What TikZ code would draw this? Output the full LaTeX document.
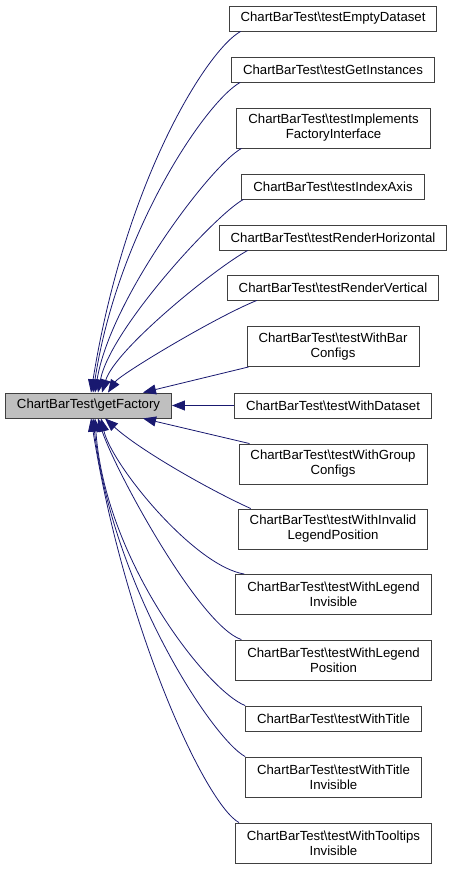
\documentclass[tikz,border=0pt]{standalone}
\usepackage{fontspec}
\setmainfont{Liberation Sans}
\usetikzlibrary{arrows.meta}
\definecolor{callblue}{HTML}{191970}
\definecolor{boxline}{HTML}{404040}
\definecolor{boxgray}{HTML}{BFBFBF}

\begin{document}
\begin{tikzpicture}[x=1pt,y=1pt,
    fn/.style={draw=boxline,line width=0.9pt,fill=white,inner xsep=11.5pt,inner ysep=0pt,
        minimum height=25pt,align=center,font=\fontsize{13.2}{15}\selectfont},
    fn2/.style={fn,minimum height=40pt},
    call/.style={draw=callblue,line width=0.8pt,-{Triangle[length=13pt,width=10pt]}}]
    \useasboundingbox (0,0) rectangle (452,-869);
    \node[fn,fill=boxgray] (getFactory) at (88.5,-405.5) {ChartBarTest\textbackslash{}getFactory};
    \node[fn] (emptyDataset) at (333,-18.5) {ChartBarTest\textbackslash{}testEmptyDataset};
    \node[fn] (getInstances) at (333,-69.5) {ChartBarTest\textbackslash{}testGetInstances};
    \node[fn2] (implements) at (333.5,-128) {ChartBarTest\textbackslash{}testImplements\\FactoryInterface};
    \node[fn] (indexAxis) at (333,-186.5) {ChartBarTest\textbackslash{}testIndexAxis};
    \node[fn] (renderH) at (333,-237.5) {ChartBarTest\textbackslash{}testRenderHorizontal};
    \node[fn] (renderV) at (333,-287.5) {ChartBarTest\textbackslash{}testRenderVertical};
    \node[fn2] (withBar) at (333,-346.5) {ChartBarTest\textbackslash{}testWithBar\\Configs};
    \node[fn] (withDataset) at (333,-405.5) {ChartBarTest\textbackslash{}testWithDataset};
    \node[fn2] (withGroup) at (333,-464) {ChartBarTest\textbackslash{}testWithGroup\\Configs};
    \node[fn2] (invalidLegend) at (333,-529) {ChartBarTest\textbackslash{}testWithInvalid\\LegendPosition};
    \node[fn2] (legendInvisible) at (333.5,-594.5) {ChartBarTest\textbackslash{}testWithLegend\\Invisible};
    \node[fn2] (legendPosition) at (333.5,-660) {ChartBarTest\textbackslash{}testWithLegend\\Position};
    \node[fn] (withTitle) at (333.5,-718.5) {ChartBarTest\textbackslash{}testWithTitle};
    \node[fn2] (titleInvisible) at (333.5,-777) {ChartBarTest\textbackslash{}testWithTitle\\Invisible};
    \node[fn2] (tooltips) at (333.5,-843) {ChartBarTest\textbackslash{}testWithTooltips\\Invisible};
    \draw[call] ([xshift=12pt]emptyDataset.south west) .. controls +(-33,-18) and +(34,213) .. ([xshift=2.5pt]getFactory.north);
    \draw[call] ([xshift=9pt]getInstances.south west) .. controls +(-33,-18) and +(25,163) .. ([xshift=4.5pt]getFactory.north);
    \draw[call] ([xshift=5pt]implements.south west) .. controls +(-31,-17) and +(15,93) .. ([xshift=6.5pt]getFactory.north);
    \draw[call] ([xshift=2pt]indexAxis.south west) .. controls +(-28,-15) and +(12,63) .. ([xshift=9.5pt]getFactory.north);
    \draw[call] ([xshift=29pt]renderH.south west) .. controls +(-33,-18) and +(13,43) .. ([xshift=13.5pt]getFactory.north);
    \draw[call] ([xshift=30pt]renderV.south west) .. controls +(-42,-17) and +(12,18) .. ([xshift=19.5pt]getFactory.north);
    \draw[call] ([xshift=2pt]withBar.south west) -- ([xshift=54.5pt]getFactory.north);
    \draw[call] (withDataset.west) -- (getFactory.east);
    \draw[call] ([xshift=11pt]withGroup.north west) -- ([xshift=54.5pt]getFactory.south);
    \draw[call] ([xshift=13pt]invalidLegend.north west) .. controls +(-40,18) and +(35,-32) .. ([xshift=16.5pt]getFactory.south);
    \draw[call] ([xshift=9pt]legendInvisible.north west) .. controls +(-50,8) and +(11,-47) .. ([xshift=12.5pt]getFactory.south);
    \draw[call] ([xshift=6pt]legendPosition.north west) .. controls +(-42,14) and +(17,-52) .. ([xshift=9.5pt]getFactory.south);
    \draw[call] (withTitle.north west) .. controls +(-38,15) and +(10,-142) .. ([xshift=6.5pt]getFactory.south);
    \draw[call] (titleInvisible.north west) .. controls +(-33,18) and +(19,-167) .. ([xshift=4.5pt]getFactory.south);
    \draw[call] ([xshift=4pt]tooltips.north west) .. controls +(-33,18) and +(34,-213) .. ([xshift=2.5pt]getFactory.south);
\end{tikzpicture}
\end{document}
